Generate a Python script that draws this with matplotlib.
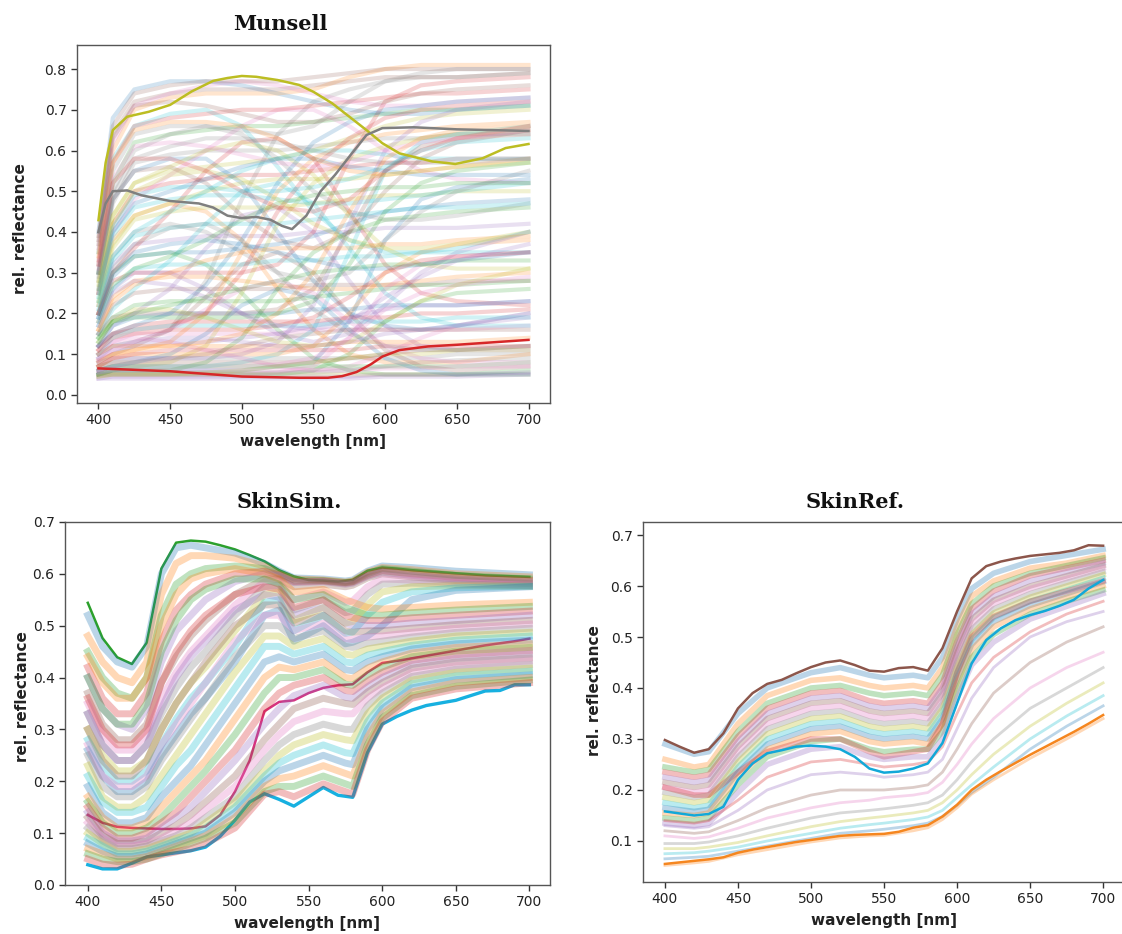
import numpy as np
import matplotlib.pyplot as plt

plt.rcParams['font.family'] = 'DejaVu Sans'

TAB10 = ['#1f77b4', '#ff7f0e', '#2ca02c', '#d62728', '#9467bd',
         '#8c564b', '#e377c2', '#7f7f7f', '#bcbd22', '#17becf']

# ---------------- Munsell ----------------
mun_wl = [400, 410, 425, 450, 475, 500, 525, 550, 575, 600, 625, 650, 700]
mun_bg = [
    [0.40, 0.68, 0.75, 0.77, 0.77, 0.76, 0.74, 0.72, 0.70, 0.69, 0.69, 0.70, 0.71],
    [0.35, 0.60, 0.70, 0.73, 0.74, 0.74, 0.74, 0.75, 0.78, 0.80, 0.81, 0.81, 0.81],
    [0.30, 0.52, 0.62, 0.64, 0.65, 0.66, 0.66, 0.67, 0.68, 0.69, 0.70, 0.70, 0.71],
    [0.25, 0.42, 0.50, 0.52, 0.53, 0.54, 0.54, 0.55, 0.56, 0.57, 0.57, 0.58, 0.58],
    [0.20, 0.32, 0.37, 0.38, 0.39, 0.39, 0.39, 0.40, 0.40, 0.41, 0.41, 0.41, 0.42],
    [0.15, 0.22, 0.25, 0.26, 0.26, 0.26, 0.26, 0.27, 0.27, 0.27, 0.27, 0.28, 0.28],
    [0.10, 0.13, 0.15, 0.15, 0.15, 0.15, 0.15, 0.16, 0.16, 0.16, 0.16, 0.16, 0.17],
    [0.07, 0.08, 0.09, 0.09, 0.09, 0.09, 0.09, 0.09, 0.09, 0.09, 0.09, 0.10, 0.10],
    [0.045, 0.05, 0.05, 0.05, 0.05, 0.05, 0.05, 0.05, 0.05, 0.05, 0.05, 0.05, 0.05],
    [0.35, 0.58, 0.66, 0.69, 0.70, 0.66, 0.56, 0.45, 0.38, 0.35, 0.35, 0.36, 0.40],
    [0.30, 0.48, 0.55, 0.58, 0.58, 0.52, 0.40, 0.28, 0.20, 0.17, 0.16, 0.17, 0.20],
    [0.25, 0.38, 0.44, 0.47, 0.45, 0.38, 0.26, 0.16, 0.10, 0.08, 0.08, 0.08, 0.10],
    [0.20, 0.30, 0.34, 0.35, 0.32, 0.25, 0.16, 0.09, 0.06, 0.05, 0.05, 0.05, 0.06],
    [0.20, 0.30, 0.36, 0.45, 0.55, 0.62, 0.63, 0.58, 0.45, 0.32, 0.25, 0.23, 0.22],
    [0.12, 0.17, 0.20, 0.26, 0.36, 0.44, 0.46, 0.40, 0.28, 0.17, 0.12, 0.11, 0.11],
    [0.08, 0.10, 0.12, 0.16, 0.24, 0.32, 0.35, 0.30, 0.20, 0.11, 0.07, 0.06, 0.07],
    [0.25, 0.40, 0.48, 0.54, 0.60, 0.66, 0.70, 0.70, 0.66, 0.60, 0.55, 0.53, 0.52],
    [0.10, 0.12, 0.13, 0.16, 0.28, 0.48, 0.64, 0.72, 0.75, 0.77, 0.78, 0.78, 0.79],
    [0.06, 0.07, 0.07, 0.08, 0.12, 0.25, 0.42, 0.52, 0.58, 0.61, 0.63, 0.64, 0.65],
    [0.06, 0.07, 0.07, 0.07, 0.07, 0.08, 0.10, 0.16, 0.35, 0.55, 0.62, 0.64, 0.66],
    [0.05, 0.06, 0.06, 0.06, 0.06, 0.06, 0.07, 0.08, 0.18, 0.38, 0.48, 0.51, 0.53],
    [0.07, 0.09, 0.10, 0.10, 0.10, 0.10, 0.10, 0.12, 0.20, 0.30, 0.35, 0.37, 0.38],
    [0.05, 0.05, 0.05, 0.05, 0.05, 0.05, 0.05, 0.06, 0.10, 0.18, 0.23, 0.25, 0.26],
    [0.20, 0.28, 0.30, 0.30, 0.30, 0.30, 0.32, 0.40, 0.58, 0.72, 0.76, 0.77, 0.78],
    [0.18, 0.26, 0.30, 0.30, 0.26, 0.20, 0.15, 0.13, 0.15, 0.22, 0.30, 0.35, 0.40],
    [0.30, 0.48, 0.55, 0.56, 0.52, 0.44, 0.38, 0.36, 0.40, 0.50, 0.58, 0.62, 0.65],
    [0.10, 0.13, 0.14, 0.13, 0.11, 0.09, 0.07, 0.06, 0.07, 0.10, 0.14, 0.17, 0.20],
    [0.28, 0.47, 0.57, 0.59, 0.60, 0.60, 0.60, 0.61, 0.62, 0.63, 0.63, 0.64, 0.64],
    [0.22, 0.36, 0.43, 0.45, 0.46, 0.46, 0.46, 0.47, 0.48, 0.49, 0.49, 0.50, 0.50],
    [0.17, 0.26, 0.31, 0.32, 0.32, 0.32, 0.33, 0.33, 0.34, 0.34, 0.35, 0.35, 0.35],
    [0.12, 0.17, 0.19, 0.20, 0.20, 0.20, 0.20, 0.21, 0.21, 0.22, 0.22, 0.22, 0.23],
    [0.085, 0.10, 0.11, 0.12, 0.12, 0.12, 0.12, 0.12, 0.13, 0.13, 0.13, 0.13, 0.14],
    [0.05, 0.06, 0.07, 0.07, 0.07, 0.07, 0.07, 0.07, 0.07, 0.07, 0.07, 0.07, 0.08],
    [0.33, 0.57, 0.66, 0.68, 0.69, 0.70, 0.70, 0.71, 0.72, 0.73, 0.74, 0.74, 0.75],
    [0.04, 0.04, 0.04, 0.04, 0.04, 0.04, 0.04, 0.04, 0.04, 0.045, 0.045, 0.045, 0.05],
    [0.38, 0.64, 0.72, 0.74, 0.75, 0.75, 0.75, 0.76, 0.77, 0.78, 0.78, 0.78, 0.79],
    [0.36, 0.62, 0.71, 0.74, 0.76, 0.77, 0.76, 0.74, 0.72, 0.71, 0.71, 0.72, 0.73],
    [0.32, 0.55, 0.64, 0.66, 0.66, 0.65, 0.64, 0.66, 0.72, 0.77, 0.79, 0.80, 0.80],
    [0.27, 0.44, 0.52, 0.55, 0.56, 0.57, 0.58, 0.60, 0.63, 0.66, 0.68, 0.69, 0.70],
    [0.24, 0.39, 0.46, 0.48, 0.49, 0.49, 0.48, 0.47, 0.47, 0.48, 0.49, 0.50, 0.52],
    [0.19, 0.29, 0.34, 0.35, 0.35, 0.36, 0.37, 0.39, 0.42, 0.45, 0.46, 0.47, 0.48],
    [0.16, 0.24, 0.28, 0.29, 0.29, 0.28, 0.27, 0.26, 0.26, 0.27, 0.28, 0.29, 0.30],
    [0.14, 0.19, 0.22, 0.23, 0.23, 0.23, 0.23, 0.24, 0.25, 0.26, 0.27, 0.27, 0.28],
    [0.11, 0.15, 0.17, 0.18, 0.18, 0.18, 0.18, 0.18, 0.19, 0.19, 0.20, 0.20, 0.21],
    [0.09, 0.11, 0.12, 0.13, 0.13, 0.14, 0.15, 0.17, 0.19, 0.21, 0.22, 0.22, 0.23],
    [0.06, 0.07, 0.08, 0.08, 0.08, 0.08, 0.08, 0.08, 0.09, 0.10, 0.11, 0.11, 0.12],
    [0.055, 0.06, 0.06, 0.06, 0.06, 0.06, 0.06, 0.06, 0.06, 0.065, 0.065, 0.07, 0.07],
    [0.30, 0.50, 0.60, 0.64, 0.66, 0.64, 0.58, 0.50, 0.45, 0.43, 0.43, 0.44, 0.47],
    [0.28, 0.44, 0.52, 0.56, 0.60, 0.62, 0.60, 0.54, 0.44, 0.36, 0.32, 0.31, 0.31],
    [0.15, 0.21, 0.26, 0.33, 0.42, 0.50, 0.52, 0.47, 0.36, 0.25, 0.19, 0.17, 0.17],
    [0.06, 0.07, 0.08, 0.10, 0.15, 0.22, 0.26, 0.24, 0.16, 0.09, 0.06, 0.05, 0.05],
    [0.08, 0.10, 0.11, 0.13, 0.20, 0.35, 0.50, 0.58, 0.62, 0.64, 0.65, 0.66, 0.67],
    [0.05, 0.06, 0.06, 0.06, 0.08, 0.14, 0.26, 0.35, 0.40, 0.43, 0.44, 0.45, 0.46],
    [0.12, 0.15, 0.16, 0.17, 0.20, 0.30, 0.45, 0.56, 0.63, 0.68, 0.70, 0.71, 0.72],
    [0.08, 0.09, 0.09, 0.09, 0.09, 0.10, 0.13, 0.22, 0.42, 0.60, 0.67, 0.70, 0.72],
    [0.15, 0.19, 0.20, 0.20, 0.20, 0.20, 0.21, 0.26, 0.40, 0.55, 0.61, 0.63, 0.64],
    [0.05, 0.05, 0.05, 0.05, 0.05, 0.05, 0.055, 0.07, 0.14, 0.26, 0.32, 0.34, 0.35],
    [0.22, 0.34, 0.40, 0.42, 0.40, 0.35, 0.30, 0.28, 0.30, 0.38, 0.45, 0.50, 0.55],
    [0.13, 0.18, 0.21, 0.21, 0.19, 0.16, 0.13, 0.12, 0.13, 0.18, 0.23, 0.27, 0.31],
    [0.10, 0.14, 0.16, 0.17, 0.17, 0.17, 0.17, 0.17, 0.18, 0.18, 0.18, 0.19, 0.19],
    [0.26, 0.40, 0.47, 0.50, 0.53, 0.56, 0.58, 0.58, 0.56, 0.55, 0.54, 0.54, 0.54],
    [0.34, 0.57, 0.65, 0.67, 0.67, 0.66, 0.63, 0.58, 0.55, 0.54, 0.55, 0.56, 0.58],
    [0.18, 0.27, 0.31, 0.34, 0.38, 0.43, 0.47, 0.49, 0.50, 0.51, 0.51, 0.52, 0.52],
    [0.07, 0.09, 0.10, 0.11, 0.11, 0.11, 0.11, 0.11, 0.11, 0.12, 0.12, 0.12, 0.12],
    [0.04, 0.045, 0.045, 0.045, 0.045, 0.045, 0.045, 0.045, 0.045, 0.05, 0.05, 0.05, 0.055],
    [0.37, 0.63, 0.71, 0.72, 0.71, 0.69, 0.67, 0.67, 0.69, 0.72, 0.74, 0.75, 0.76],
    [0.31, 0.53, 0.61, 0.62, 0.61, 0.59, 0.57, 0.56, 0.57, 0.60, 0.62, 0.63, 0.65],
    [0.29, 0.49, 0.58, 0.61, 0.63, 0.63, 0.62, 0.60, 0.58, 0.57, 0.57, 0.57, 0.58],
    [0.23, 0.37, 0.44, 0.47, 0.50, 0.52, 0.53, 0.53, 0.53, 0.54, 0.55, 0.56, 0.57],
    [0.21, 0.33, 0.39, 0.41, 0.42, 0.42, 0.42, 0.43, 0.44, 0.45, 0.46, 0.46, 0.47],
    [0.19, 0.30, 0.35, 0.37, 0.38, 0.37, 0.35, 0.33, 0.31, 0.31, 0.32, 0.33, 0.35],
    [0.16, 0.23, 0.27, 0.30, 0.33, 0.35, 0.36, 0.36, 0.36, 0.37, 0.37, 0.38, 0.39],
    [0.13, 0.18, 0.20, 0.22, 0.24, 0.26, 0.28, 0.30, 0.31, 0.32, 0.32, 0.33, 0.33],
    [0.11, 0.14, 0.15, 0.16, 0.16, 0.16, 0.17, 0.19, 0.24, 0.30, 0.33, 0.34, 0.35],
    [0.09, 0.12, 0.13, 0.14, 0.14, 0.13, 0.12, 0.12, 0.13, 0.15, 0.16, 0.17, 0.19],
    [0.07, 0.08, 0.08, 0.09, 0.10, 0.12, 0.14, 0.15, 0.16, 0.16, 0.16, 0.16, 0.16],
    [0.06, 0.065, 0.07, 0.07, 0.07, 0.07, 0.075, 0.09, 0.14, 0.21, 0.25, 0.27, 0.29],
    [0.05, 0.055, 0.055, 0.055, 0.055, 0.055, 0.055, 0.055, 0.06, 0.07, 0.08, 0.085, 0.09],
    [0.26, 0.42, 0.50, 0.54, 0.55, 0.53, 0.48, 0.42, 0.38, 0.36, 0.36, 0.37, 0.40],
    [0.23, 0.34, 0.40, 0.45, 0.50, 0.55, 0.58, 0.60, 0.60, 0.59, 0.58, 0.58, 0.58],
    [0.12, 0.15, 0.17, 0.20, 0.27, 0.38, 0.52, 0.62, 0.67, 0.70, 0.71, 0.72, 0.73],
    [0.10, 0.12, 0.12, 0.12, 0.13, 0.15, 0.20, 0.30, 0.45, 0.58, 0.63, 0.65, 0.66],
    [0.14, 0.18, 0.19, 0.19, 0.19, 0.19, 0.20, 0.23, 0.32, 0.45, 0.52, 0.55, 0.57],
    [0.32, 0.52, 0.58, 0.58, 0.55, 0.50, 0.46, 0.45, 0.48, 0.55, 0.60, 0.63, 0.66],
    [0.17, 0.25, 0.28, 0.27, 0.24, 0.20, 0.17, 0.16, 0.18, 0.24, 0.29, 0.33, 0.37],
    [0.39, 0.66, 0.74, 0.76, 0.77, 0.77, 0.77, 0.78, 0.79, 0.80, 0.80, 0.80, 0.80],
    [0.085, 0.11, 0.13, 0.16, 0.21, 0.26, 0.28, 0.25, 0.18, 0.12, 0.09, 0.08, 0.08],
    [0.20, 0.31, 0.37, 0.41, 0.42, 0.38, 0.30, 0.21, 0.15, 0.12, 0.11, 0.11, 0.12],
    [0.045, 0.05, 0.05, 0.05, 0.055, 0.06, 0.07, 0.08, 0.09, 0.10, 0.10, 0.11, 0.11],
    [0.25, 0.41, 0.49, 0.51, 0.51, 0.50, 0.50, 0.51, 0.53, 0.56, 0.60, 0.62, 0.63],
]
olive_wl = [400, 405, 410, 420, 435, 450, 465, 480, 490, 500, 510, 525, 540, 550,
            563, 575, 587, 598, 610, 633, 649, 668, 684, 700]
olive_val = [0.429, 0.57, 0.65, 0.683, 0.695, 0.712, 0.745, 0.771, 0.778, 0.783, 0.781,
             0.773, 0.761, 0.744, 0.716, 0.683, 0.65, 0.618, 0.593, 0.573, 0.567, 0.581,
             0.606, 0.616]
gray_wl = [400, 405, 410, 420, 430, 450, 470, 480, 490, 500, 510, 520, 528, 535, 545,
           555, 565, 575, 587, 598, 620, 650, 700]
gray_val = [0.40, 0.47, 0.50, 0.502, 0.49, 0.476, 0.47, 0.46, 0.44, 0.434, 0.437, 0.43,
            0.415, 0.407, 0.44, 0.50, 0.54, 0.585, 0.638, 0.655, 0.657, 0.652, 0.648]
red_wl = [400, 450, 500, 540, 560, 570, 580, 590, 598, 610, 630, 650, 700]
red_val = [0.065, 0.058, 0.045, 0.042, 0.042, 0.046, 0.056, 0.075, 0.094, 0.11, 0.119,
           0.123, 0.135]

# ---------------- SkinSim ----------------
sim_wl = [400, 410, 420, 430, 440, 450, 460, 470, 480, 500, 520, 530, 540, 560, 575,
          580, 590, 600, 620, 650, 700]
sim_bg = [
    [.52, .46, .43, .42, .46, .60, .65, .655, .65, .64, .62, .605, .592, .59, .586, .588, .605, .615, .612, .605, .598],
    [.48, .43, .40, .39, .43, .56, .62, .635, .635, .63, .615, .60, .59, .588, .584, .586, .603, .612, .608, .60, .594],
    [.45, .40, .37, .36, .40, .52, .58, .60, .61, .615, .61, .60, .588, .587, .583, .585, .60, .61, .605, .597, .59],
    [.42, .36, .33, .33, .37, .47, .53, .56, .58, .60, .605, .598, .585, .586, .582, .584, .597, .606, .60, .593, .587],
    [.40, .34, .31, .30, .34, .43, .49, .52, .55, .585, .60, .596, .583, .585, .58, .582, .595, .603, .597, .59, .584],
    [.37, .31, .28, .28, .31, .39, .44, .48, .51, .56, .59, .59, .575, .58, .575, .578, .592, .60, .594, .587, .581],
    [.35, .29, .26, .26, .29, .36, .41, .45, .48, .54, .585, .585, .55, .565, .545, .548, .575, .59, .588, .583, .578],
    [.33, .27, .24, .24, .27, .33, .38, .42, .45, .52, .575, .578, .53, .55, .525, .528, .56, .58, .582, .58, .577],
    [.30, .25, .22, .22, .24, .30, .35, .39, .42, .49, .56, .565, .51, .535, .505, .508, .54, .565, .575, .577, .576],
    [.28, .23, .20, .20, .22, .27, .32, .36, .39, .46, .545, .55, .49, .52, .485, .488, .52, .545, .565, .573, .576],
    [.26, .21, .18, .18, .20, .25, .29, .33, .36, .43, .52, .53, .47, .50, .465, .468, .48, .50, .55, .568, .575],
    [.44, .39, .36, .36, .40, .50, .56, .59, .60, .61, .60, .59, .565, .57, .55, .545, .535, .532, .535, .54, .545],
    [.40, .34, .31, .31, .35, .45, .51, .55, .57, .59, .59, .58, .55, .56, .535, .53, .52, .52, .525, .53, .537],
    [.36, .30, .27, .27, .30, .39, .45, .49, .52, .56, .575, .57, .535, .55, .52, .515, .51, .51, .515, .52, .528],
    [.33, .27, .24, .24, .27, .34, .40, .44, .47, .53, .56, .555, .52, .535, .505, .50, .50, .50, .505, .51, .52],
    [.30, .24, .21, .21, .24, .30, .35, .39, .43, .50, .54, .54, .505, .52, .49, .487, .49, .49, .495, .502, .51],
    [.27, .21, .19, .19, .21, .27, .31, .35, .39, .47, .52, .52, .49, .505, .475, .473, .478, .48, .487, .495, .503],
    [.25, .19, .17, .17, .19, .24, .28, .32, .36, .44, .50, .50, .475, .49, .46, .458, .466, .47, .478, .487, .495],
    [.23, .17, .15, .15, .17, .21, .25, .29, .33, .41, .48, .48, .46, .475, .445, .443, .455, .46, .47, .48, .487],
    [.21, .16, .14, .14, .15, .19, .23, .26, .30, .38, .46, .46, .445, .46, .43, .428, .443, .45, .462, .472, .48],
    [.19, .14, .12, .12, .13, .17, .20, .23, .27, .35, .43, .44, .43, .445, .415, .413, .43, .44, .455, .465, .472],
    [.17, .13, .11, .11, .12, .15, .18, .21, .24, .32, .40, .42, .415, .43, .40, .398, .418, .43, .447, .458, .465],
    [.16, .12, .10, .10, .11, .13, .16, .19, .22, .29, .37, .40, .40, .415, .387, .385, .405, .42, .44, .451, .458],
    [.15, .11, .09, .09, .10, .12, .14, .17, .20, .26, .34, .37, .385, .40, .375, .373, .393, .41, .433, .444, .452],
    [.14, .10, .085, .085, .09, .11, .13, .15, .18, .24, .31, .34, .365, .385, .362, .36, .382, .40, .425, .437, .445],
    [.13, .095, .08, .08, .085, .10, .115, .135, .16, .21, .28, .31, .34, .36, .35, .348, .372, .39, .418, .43, .438],
    [.12, .09, .075, .075, .08, .09, .105, .12, .145, .19, .26, .29, .315, .335, .33, .33, .36, .38, .41, .423, .432],
    [.11, .085, .07, .07, .075, .085, .095, .11, .13, .17, .24, .27, .29, .31, .30, .30, .345, .37, .402, .416, .425],
    [.10, .08, .065, .065, .07, .08, .09, .10, .12, .16, .22, .25, .27, .29, .28, .278, .33, .36, .395, .41, .418],
    [.09, .075, .06, .06, .065, .075, .085, .095, .11, .15, .21, .235, .25, .27, .255, .253, .315, .35, .388, .403, .412],
    [.08, .065, .055, .055, .06, .07, .08, .09, .10, .14, .20, .22, .23, .25, .235, .232, .30, .34, .38, .396, .405],
    [.07, .06, .05, .05, .055, .065, .075, .085, .095, .13, .19, .205, .21, .23, .215, .21, .285, .33, .372, .39, .40],
    [.06, .05, .045, .045, .05, .06, .07, .08, .09, .12, .18, .19, .19, .21, .195, .19, .27, .322, .365, .383, .395],
    [.05, .04, .038, .04, .05, .058, .064, .07, .08, .11, .175, .18, .17, .195, .18, .175, .26, .315, .36, .378, .39],
]
sim_hi_wl = list(range(400, 701, 10))
green_val = [0.544, 0.476, 0.439, 0.426, 0.467, 0.61, 0.66, 0.664, 0.662, 0.655, 0.647,
             0.636, 0.624, 0.607, 0.595, 0.588, 0.587, 0.585, 0.588, 0.606, 0.612, 0.61,
             0.607, 0.605, 0.603, 0.601, 0.599, 0.597, 0.596, 0.595, 0.594]
pink_val = [0.135, 0.12, 0.112, 0.110, 0.109, 0.108, 0.108, 0.109, 0.113, 0.135, 0.18,
            0.24, 0.335, 0.353, 0.356, 0.37, 0.38, 0.385, 0.387, 0.41, 0.428, 0.432,
            0.437, 0.442, 0.447, 0.452, 0.457, 0.462, 0.466, 0.47, 0.475]
cyan_sim_val = [0.039, 0.031, 0.031, 0.042, 0.054, 0.058, 0.062, 0.066, 0.073, 0.094,
                0.125, 0.160, 0.176, 0.165, 0.152, 0.170, 0.188, 0.173, 0.169, 0.255,
                0.310, 0.325, 0.337, 0.346, 0.351, 0.356, 0.365, 0.374, 0.375, 0.386,
                0.386]

# ---------------- SkinRef ----------------
ref_wl = [400, 420, 430, 450, 470, 500, 520, 540, 550, 570, 580, 590, 600, 610, 625,
          650, 675, 700]
ref_band = [
    [0.29, 0.27, 0.275, 0.35, 0.40, 0.43, 0.44, 0.425, 0.42, 0.425, 0.42, 0.46, 0.535, 0.595, 0.625, 0.648, 0.66, 0.672],
    [0.26, 0.245, 0.25, 0.33, 0.385, 0.415, 0.42, 0.405, 0.40, 0.405, 0.40, 0.44, 0.52, 0.58, 0.61, 0.635, 0.645, 0.66],
    [0.245, 0.235, 0.24, 0.315, 0.37, 0.40, 0.405, 0.39, 0.385, 0.39, 0.385, 0.425, 0.505, 0.565, 0.60, 0.625, 0.64, 0.655],
    [0.235, 0.225, 0.23, 0.305, 0.36, 0.39, 0.395, 0.375, 0.37, 0.375, 0.37, 0.41, 0.49, 0.555, 0.59, 0.62, 0.635, 0.65],
    [0.225, 0.215, 0.22, 0.295, 0.35, 0.38, 0.385, 0.365, 0.36, 0.365, 0.36, 0.40, 0.48, 0.545, 0.58, 0.61, 0.628, 0.645],
    [0.215, 0.205, 0.21, 0.285, 0.34, 0.37, 0.375, 0.355, 0.35, 0.355, 0.35, 0.39, 0.47, 0.535, 0.572, 0.60, 0.62, 0.64],
    [0.205, 0.195, 0.20, 0.275, 0.33, 0.36, 0.365, 0.345, 0.34, 0.345, 0.34, 0.38, 0.46, 0.525, 0.565, 0.595, 0.615, 0.635],
    [0.195, 0.185, 0.19, 0.265, 0.32, 0.35, 0.355, 0.335, 0.33, 0.335, 0.33, 0.37, 0.45, 0.515, 0.555, 0.585, 0.607, 0.628],
    [0.185, 0.175, 0.18, 0.255, 0.31, 0.34, 0.345, 0.325, 0.32, 0.325, 0.32, 0.36, 0.44, 0.505, 0.547, 0.578, 0.60, 0.622],
    [0.175, 0.165, 0.17, 0.245, 0.30, 0.33, 0.335, 0.315, 0.31, 0.315, 0.31, 0.35, 0.43, 0.495, 0.538, 0.57, 0.592, 0.615],
    [0.165, 0.158, 0.162, 0.235, 0.29, 0.32, 0.325, 0.305, 0.30, 0.305, 0.30, 0.34, 0.42, 0.485, 0.53, 0.562, 0.585, 0.608],
    [0.155, 0.15, 0.155, 0.225, 0.28, 0.31, 0.315, 0.295, 0.29, 0.295, 0.29, 0.33, 0.41, 0.475, 0.52, 0.555, 0.578, 0.60],
    [0.145, 0.14, 0.145, 0.21, 0.265, 0.295, 0.30, 0.28, 0.275, 0.28, 0.28, 0.315, 0.395, 0.46, 0.505, 0.545, 0.57, 0.592],
    [0.205, 0.19, 0.19, 0.235, 0.275, 0.30, 0.30, 0.275, 0.265, 0.275, 0.28, 0.33, 0.43, 0.50, 0.54, 0.57, 0.59, 0.61],
    [0.135, 0.13, 0.135, 0.195, 0.25, 0.28, 0.285, 0.265, 0.26, 0.265, 0.265, 0.30, 0.38, 0.445, 0.49, 0.535, 0.56, 0.585],
]
ref_low = [
    [0.14, 0.135, 0.14, 0.18, 0.225, 0.255, 0.26, 0.25, 0.245, 0.25, 0.255, 0.285, 0.35, 0.41, 0.46, 0.51, 0.545, 0.57],
    [0.13, 0.125, 0.128, 0.16, 0.20, 0.23, 0.235, 0.23, 0.225, 0.23, 0.235, 0.26, 0.32, 0.38, 0.44, 0.50, 0.53, 0.55],
    [0.12, 0.115, 0.118, 0.14, 0.165, 0.19, 0.20, 0.20, 0.20, 0.205, 0.21, 0.235, 0.28, 0.33, 0.39, 0.45, 0.49, 0.52],
    [0.11, 0.105, 0.108, 0.125, 0.145, 0.165, 0.175, 0.18, 0.185, 0.19, 0.195, 0.215, 0.25, 0.29, 0.34, 0.40, 0.44, 0.47],
    [0.095, 0.095, 0.098, 0.11, 0.125, 0.145, 0.155, 0.16, 0.163, 0.17, 0.175, 0.19, 0.22, 0.255, 0.30, 0.36, 0.40, 0.44],
    [0.085, 0.085, 0.088, 0.097, 0.11, 0.128, 0.138, 0.145, 0.148, 0.155, 0.16, 0.175, 0.20, 0.23, 0.27, 0.325, 0.37, 0.41],
    [0.075, 0.077, 0.08, 0.088, 0.10, 0.115, 0.125, 0.132, 0.135, 0.142, 0.147, 0.16, 0.185, 0.21, 0.245, 0.30, 0.345, 0.385],
    [0.065, 0.068, 0.07, 0.08, 0.09, 0.105, 0.115, 0.12, 0.123, 0.13, 0.135, 0.148, 0.17, 0.195, 0.225, 0.28, 0.325, 0.365],
    [0.052, 0.057, 0.06, 0.073, 0.083, 0.098, 0.106, 0.110, 0.111, 0.12, 0.126, 0.142, 0.165, 0.192, 0.22, 0.262, 0.30, 0.34],
]
ref_hi_wl = list(range(400, 701, 10))
brown_val = [0.298, 0.285, 0.273, 0.28, 0.311, 0.36, 0.39, 0.408, 0.416, 0.429, 0.441,
             0.45, 0.454, 0.445, 0.434, 0.432, 0.439, 0.441, 0.434, 0.478, 0.55, 0.615,
             0.639, 0.648, 0.654, 0.659, 0.662, 0.665, 0.67, 0.68, 0.679]
cyan_ref_val = [0.158, 0.154, 0.15, 0.153, 0.167, 0.22, 0.252, 0.272, 0.278, 0.285,
                0.287, 0.285, 0.28, 0.265, 0.242, 0.234, 0.236, 0.242, 0.252, 0.292,
                0.37, 0.448, 0.494, 0.517, 0.533, 0.543, 0.551, 0.561, 0.573, 0.595,
                0.612]
orange_val = [0.055, 0.058, 0.061, 0.064, 0.068, 0.077, 0.083, 0.088, 0.093, 0.098,
              0.102, 0.106, 0.11, 0.112, 0.113, 0.114, 0.118, 0.126, 0.131, 0.148,
              0.171, 0.2, 0.22, 0.237, 0.253, 0.269, 0.284, 0.299, 0.314, 0.33, 0.347]

LABEL_FONT = dict(family='DejaVu Sans', fontweight='bold', fontsize=11, color='#222222')


def style_axes(ax, ylab_x, ylab_y, show_right=True):
    for side in ['left', 'bottom', 'top', 'right']:
        ax.spines[side].set_color('#555555')
        ax.spines[side].set_linewidth(1.0)
    ax.spines['right'].set_visible(show_right)
    ax.tick_params(axis='both', direction='out', length=4, width=1, color='#333333',
                   labelsize=10, labelcolor='#222222', top=False, right=False)
    ax.set_xticks([400, 450, 500, 550, 600, 650, 700])
    ax.set_xlabel('wavelength [nm]', labelpad=5, **LABEL_FONT)
    ax.set_ylabel('rel. reflectance', **LABEL_FONT)
    ax.yaxis.set_label_coords(ylab_x, ylab_y)


fig = plt.figure(figsize=(11.22, 9.34), dpi=100)

# Munsell
ax1 = fig.add_axes([0.0686, 0.5685, 0.4216, 0.3833])
for i, vals in enumerate(mun_bg):
    ax1.plot(mun_wl, vals, color=TAB10[i % 10], lw=3, alpha=0.2, zorder=1)
ax1.plot(olive_wl, olive_val, color='#bcbd22', lw=1.8, zorder=3)
ax1.plot(gray_wl, gray_val, color='#7f7f7f', lw=1.8, zorder=3)
ax1.plot(red_wl, red_val, color='#d62728', lw=1.8, zorder=3)
ax1.set_xlim(385, 715)
ax1.set_ylim(-0.02, 0.859)
ax1.set_yticks([0.0, 0.1, 0.2, 0.3, 0.4, 0.5, 0.6, 0.7, 0.8])
style_axes(ax1, -0.104, 0.486)

# SkinSim
ax2 = fig.add_axes([0.0579, 0.0525, 0.4323, 0.3887])
ax2.plot(sim_hi_wl, green_val, color='#2ca02c', lw=1.8, zorder=1)
ax2.plot(sim_hi_wl, pink_val, color='#d6337f', lw=1.8, zorder=1)
ax2.plot(sim_hi_wl, cyan_sim_val, color='#17b0e0', lw=2.4, zorder=1)
for i, vals in enumerate(sim_bg):
    ax2.plot(sim_wl, vals, color=TAB10[i % 10], lw=5, alpha=0.3, zorder=2)
ax2.set_xlim(384.5, 714)
ax2.set_ylim(0.0, 0.7)
ax2.set_yticks([0.0, 0.1, 0.2, 0.3, 0.4, 0.5, 0.6, 0.7])
style_axes(ax2, -0.072, 0.52)

# SkinRef
ax3 = fig.add_axes([0.5731, 0.0557, 0.4296, 0.3854])
for i, vals in enumerate(ref_band):
    ax3.plot(ref_wl, vals, color=TAB10[i % 10], lw=4, alpha=0.3, zorder=1)
for i, vals in enumerate(ref_low):
    ax3.plot(ref_wl, vals, color=TAB10[(i + 3) % 10], lw=2, alpha=0.3, zorder=1)
ax3.plot(ref_hi_wl, brown_val, color='#8c564b', lw=1.8, zorder=3)
ax3.plot(ref_hi_wl, cyan_ref_val, color='#12a8d8', lw=1.8, zorder=3)
ax3.plot(ref_hi_wl, orange_val, color='#f5861f', lw=1.8, zorder=3)
ax3.set_xlim(385, 715)
ax3.set_ylim(0.0196, 0.7255)
ax3.set_yticks([0.1, 0.2, 0.3, 0.4, 0.5, 0.6, 0.7])
style_axes(ax3, -0.085, 0.533, show_right=False)

title_kw = dict(family='DejaVu Serif', fontweight='bold', fontsize=15, ha='center',
                va='center', color='#111111')
fig.text(280 / 1122, 1 - 24 / 934, 'Munsell', **title_kw)
fig.text(289 / 1122, 1 - 502 / 934, 'SkinSim.', **title_kw)
fig.text(855 / 1122, 1 - 502 / 934, 'SkinRef.', **title_kw)

fig.savefig('out.png', dpi=100)
